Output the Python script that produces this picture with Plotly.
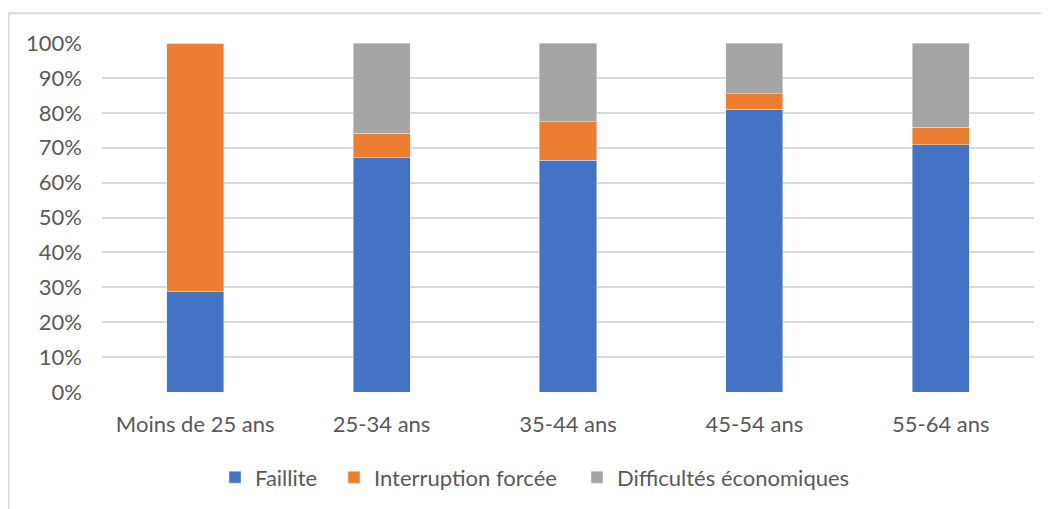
import plotly.graph_objects as go

categories = ["Moins de 25 ans", "25-34 ans", "35-44 ans", "45-54 ans", "55-64 ans"]
faillite = [28.7, 67.1, 66.4, 81.0, 70.8]
interruption = [71.3, 7.1, 11.0, 4.4, 5.1]
difficultes = [0.0, 25.8, 22.6, 14.6, 24.1]
y_ticks = list(range(0, 101, 10))

FONT = "Lato"
TXT = "#595959"
GRID = "#D9D9D9"
FS = 22

# page is offset by the browser's 8px body margin
OFF = 8
W, H = 1049 - OFF, 509 - OFF
L, T = 102 - OFF, 43 - OFF
R = W - (1034 - OFF)
B = H - (393.5 - OFF)
pw, ph = W - L - R, H - T - B

def px(x):  # page pixel -> paper x
    return (x - OFF - L) / pw

def py(y):  # page pixel -> paper y
    return (H - B - (y - OFF)) / ph

fig = go.Figure()
fig.add_trace(go.Bar(x=categories, y=faillite, name="Faillite",
                     marker_color="#4472C4", legend="legend"))
fig.add_trace(go.Bar(x=categories, y=interruption, name="Interruption forcée",
                     marker_color="#ED7D31", legend="legend2"))
fig.add_trace(go.Bar(x=categories, y=difficultes, name="Difficultés économiques",
                     marker_color="#A5A5A5", legend="legend3"))

def leg(marker_x):
    return dict(
        orientation="h",
        x=px(marker_x - 19), xanchor="left",
        y=py(478), yanchor="middle",
        font=dict(family=FONT, size=FS, color=TXT),
        bgcolor="rgba(0,0,0,0)",
    )

fig.update_layout(
    barmode="stack",
    bargap=0.694,
    width=W, height=H,
    margin=dict(l=L, r=R, t=T, b=B, pad=0),
    paper_bgcolor="white",
    plot_bgcolor="white",
    font=dict(family=FONT, size=FS, color=TXT),
    showlegend=True,
    legend=leg(234),
    legend2=leg(353),
    legend3=leg(596),
    xaxis=dict(
        showgrid=False, showline=False, zeroline=False, ticks="",
        tickfont=dict(family=FONT, size=FS, color=TXT),
        ticklabelstandoff=17,
    ),
    yaxis=dict(
        range=[0, 100], tickvals=y_ticks, ticktext=[f"{v}%" for v in y_ticks],
        showgrid=True, gridcolor=GRID, gridwidth=1.5,
        zeroline=False, showline=False, ticks="",
        tickfont=dict(family=FONT, size=FS, color=TXT),
        ticklabelstandoff=19,
    ),
    shapes=[
        dict(type="line", xref="paper", yref="paper",
             x0=px(8.5), x1=px(8.5), y0=py(13), y1=py(520),
             line=dict(color=GRID, width=2)),
        dict(type="line", xref="paper", yref="paper",
             x0=px(8.5), x1=px(1060), y0=py(13), y1=py(13),
             line=dict(color=GRID, width=2)),
    ],
)

fig.write_html("out.html")
